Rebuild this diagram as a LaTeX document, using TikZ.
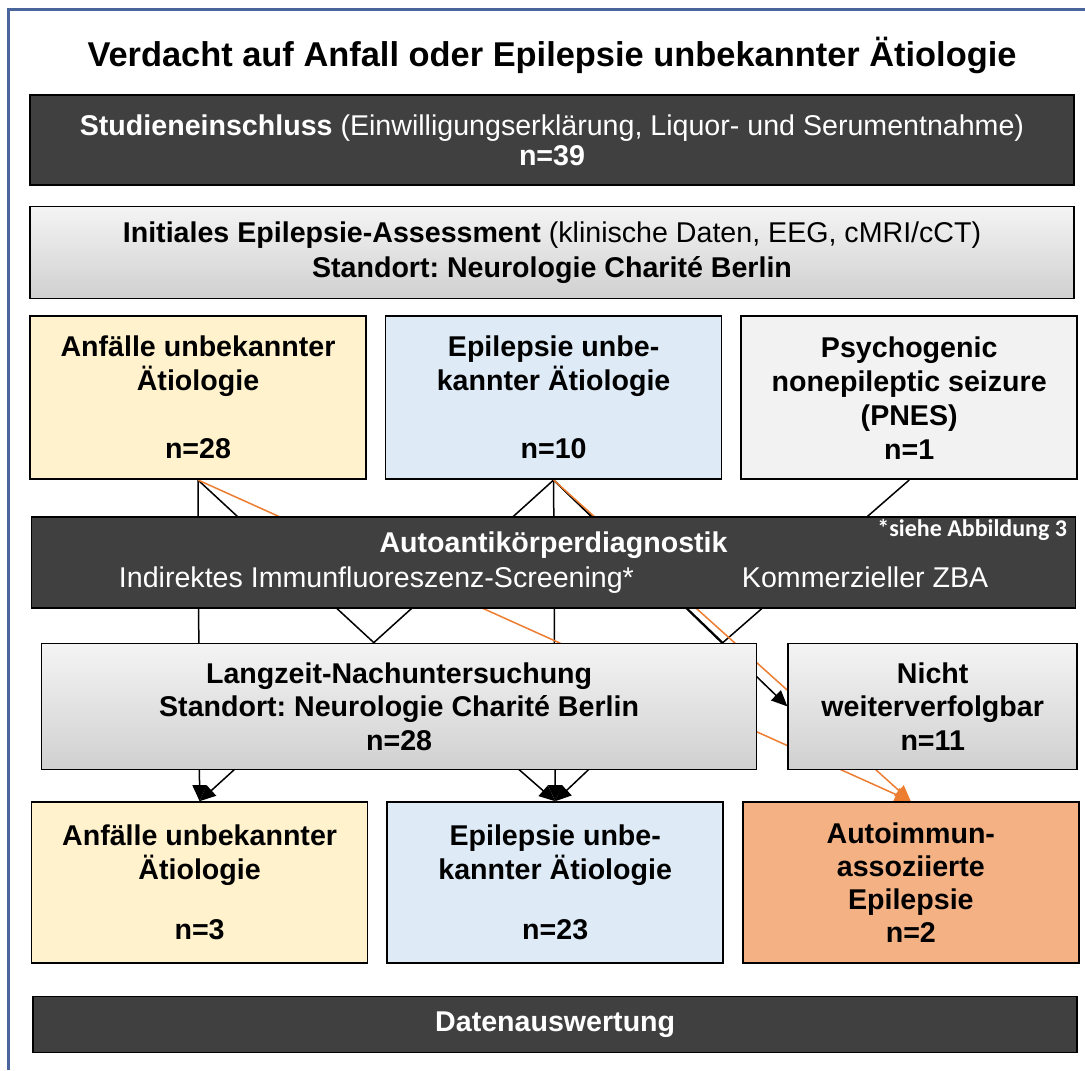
\documentclass[tikz,border=0pt]{standalone}
\usepackage{fontspec}
\setmainfont{Liberation Sans}
\newfontfamily\notefont{Carlito}
\usepackage{xcolor}
\usepackage{tikz}
\usetikzlibrary{arrows.meta, positioning, backgrounds}
\frenchspacing

\definecolor{darkfill}{HTML}{404040}
\definecolor{szufill}{HTML}{FFF2CC}
\definecolor{epufill}{HTML}{DEEBF7}
\definecolor{pnesfill}{HTML}{F2F2F2}
\definecolor{aiefill}{HTML}{F4B183}
\definecolor{greytop}{HTML}{F4F4F4}
\definecolor{greybot}{HTML}{D0D0D0}
\definecolor{aieline}{HTML}{ED7D31}
\definecolor{framecol}{HTML}{4A659B}

\begin{document}
\begin{tikzpicture}[
    node distance=9pt,
    wide/.style={rectangle, draw=black, line width=0.8pt, minimum width=522pt,
                 align=center, inner sep=2pt, font=\fontsize{14.3}{17.5}\selectfont},
    dark/.style={wide, fill=darkfill, text=white},
    greybox/.style={rectangle, draw=black, line width=0.8pt, top color=greytop,
                    bottom color=greybot, align=center, inner sep=2pt,
                    font=\bfseries\fontsize{14.3}{16.8}\selectfont},
    catbox/.style={rectangle, draw=black, line width=0.8pt, minimum width=168pt,
                   align=center, inner sep=2pt,
                   font=\bfseries\fontsize{14.3}{17}\selectfont},
    link/.style={line width=0.75pt, black},
    arr/.style={link, -{Triangle[length=8pt, width=7pt]}},
    aiearr/.style={line width=0.75pt, aieline, -{Triangle[length=8pt, width=7pt]}},
]
\useasboundingbox (0,0) rectangle (542.5pt,-535pt);

% Frame (left and top edge only)
\draw[framecol, line width=1.5pt] (4pt,-535pt) -- (4pt,-5pt) -- (542.5pt,-5pt);

% Title and study inclusion
\node[font=\bfseries\fontsize{17.2}{20}\selectfont] (title) at (276pt,-27.5pt)
    {Verdacht auf Anfall oder Epilepsie unbekannter Ätiologie};
\node[dark, minimum height=45pt, font=\fontsize{14.3}{15}\selectfont] (incl) at (276pt,-70pt)
    {\textbf{Studieneinschluss} (Einwilligungserklärung, Liquor- und Serumentnahme)\\
     \textbf{n=39}};
\node[greybox, minimum width=522pt, minimum height=46pt, below=10pt of incl,
      font=\fontsize{14.3}{17.5}\selectfont] (assess)
    {\textbf{Initiales Epilepsie-Assessment} (klinische Daten, EEG, cMRI/cCT)\\
     \textbf{Standort: Neurologie Charité Berlin}};

% Initial diagnosis row
\node[catbox, fill=szufill, minimum height=81.5pt,
      below right=8pt and 0pt of assess.south west, anchor=north west] (szu)
    {Anfälle unbekannter\\Ätiologie\\[17pt]n=28};
\node[catbox, fill=epufill, minimum height=81.5pt, right=of szu] (epu)
    {Epilepsie unbe-\\kannter Ätiologie\\[17pt]n=10};
\node[catbox, fill=pnesfill, minimum height=81.5pt, right=of epu] (pnes)
    {Psychogenic\\nonepileptic seizure\\(PNES)\\n=1};

% Antibody diagnostics
\node[dark, minimum height=45.5pt, below=18pt of epu] (aak)
    {\textbf{Autoantikörperdiagnostik}\\
     Indirektes Immunfluoreszenz-Screening*\hspace{54pt}Kommerzieller ZBA};
\node[anchor=north east, inner sep=0pt, text=white, font=\notefont\bfseries\fontsize{12}{13}\selectfont]
    (note) at ([xshift=-4.5pt, yshift=-1.5pt]aak.north east) {*siehe Abbildung 3};

% Follow-up
\node[greybox, minimum width=357.5pt, minimum height=63pt,
      below right=17pt and 5pt of aak.south west, anchor=north west] (fu)
    {Langzeit-Nachuntersuchung\\Standort: Neurologie Charité Berlin\\n=28};
\node[greybox, minimum width=144.5pt, minimum height=63pt, right=15pt of fu] (lost)
    {Nicht\\weiterverfolgbar\\n=11};

% Outcome row
\node[catbox, fill=szufill, minimum height=80.5pt,
      below right=15.5pt and -5pt of fu.south west, anchor=north west] (szu2)
    {Anfälle unbekannter\\Ätiologie\\[13pt]n=3};
\node[catbox, fill=epufill, minimum height=80.5pt, right=of szu2] (epu2)
    {Epilepsie unbe-\\kannter Ätiologie\\[13pt]n=23};
\node[catbox, fill=aiefill, minimum height=80.5pt, right=of epu2,
      font=\bfseries\fontsize{14.3}{16.5}\selectfont] (aie)
    {Autoimmun-\\assoziierte\\Epilepsie\\n=2};

% Data analysis
\node[dark, minimum height=28pt, below=16pt of epu2, font=\bfseries\fontsize{14.3}{17}\selectfont] (eval)
    {Datenauswertung};

% Meeting points on top of the follow-up box
\coordinate (p1) at ([xshift=166.5pt]fu.north west);
\coordinate (p2) at ([xshift=341pt]fu.north west);

\begin{scope}[on background layer]
% lines into follow-up
\draw[link] (szu.south) -- (p1);
\draw[link] (epu.south) -- (p1);
\draw[link] (epu.south) -- (p2);
\draw[link] (pnes.south) -- (p2);
% arrows to outcome row
\draw[arr] (szu.south) -- (szu2.north);
\draw[arr] (p1) -- (szu2.north);
\draw[arr] (p1) -- (epu2.north);
\draw[arr] (epu.south) -- (epu2.north);
\draw[arr] (p2) -- (epu2.north);
\draw[arr] (epu.south) -- (lost.west);
% autoimmune paths
\draw[aiearr] (szu.south) -- (aie.north);
\draw[aiearr] (epu.south) -- (aie.north);
\end{scope}

\end{tikzpicture}
\end{document}
